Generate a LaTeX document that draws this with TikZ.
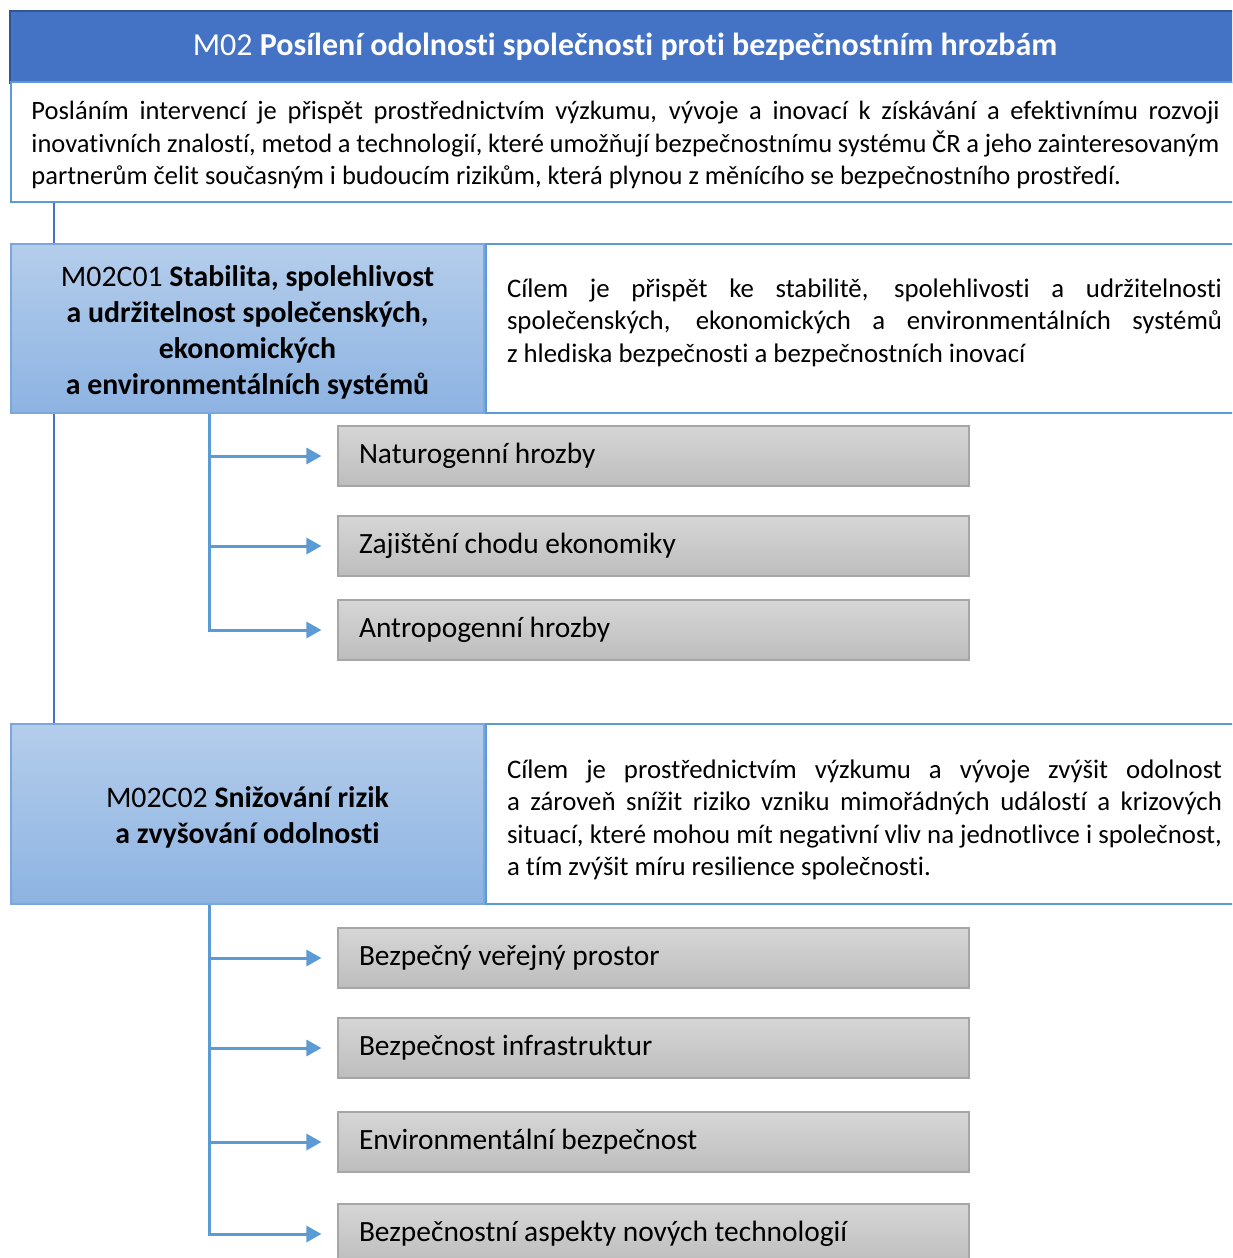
\documentclass[tikz,border=0pt]{standalone}
\usepackage{fontspec}
\setmainfont{Carlito}[Ligatures=NoCommon]
\usepackage{xcolor}
\usetikzlibrary{
    arrows.meta,
    calc,
    positioning
}
\definecolor{titleblue}{HTML}{4472C4}
\definecolor{titleline}{HTML}{2F5597}
\definecolor{boxblue}{HTML}{5B9BD5}
\definecolor{headtop}{HTML}{B4CDEB}
\definecolor{headbot}{HTML}{8DB3E2}
\definecolor{headline}{HTML}{7AA7DD}
\definecolor{itemtop}{HTML}{D6D6D6}
\definecolor{itembot}{HTML}{BDBDBD}
\definecolor{itemline}{HTML}{A6A6A6}
\hyphenpenalty=10000
\exhyphenpenalty=10000

\begin{document}
\begin{tikzpicture}[x=0.5pt, y=-0.5pt,
    every node/.style={font=\fontsize{13.4}{16.25}\selectfont, inner sep=0pt},
    titlebox/.style={draw=titleline, line width=0.75pt, fill=titleblue, text=white,
        minimum width=615pt, minimum height=36pt, font=\fontsize{16}{18}\selectfont},
    textbox/.style={draw=boxblue, line width=1pt, fill=white, align=justify},
    headbox/.style={draw=headline, line width=1pt, top color=headtop, bottom color=headbot,
        text width=236.5pt, align=flush center, font=\fontsize{14.9}{18}\selectfont},
    itembox/.style={draw=itemline, line width=0.6pt, top color=itemtop, bottom color=itembot,
        minimum height=30pt, text width=294.5pt, inner xsep=10.5pt, align=flush left,
        font=\fontsize{14.7}{17}\selectfont},
    trunk/.style={draw=titleblue, line width=1.25pt},
    branch/.style={draw=boxblue, line width=1.5pt, -{Triangle[length=7.5pt,width=8pt]}, shorten >=8pt}]
    \useasboundingbox (0,0) rectangle (1232,1258);
    \clip (0,0) rectangle (1232,1258);
    \fill[white] (0,0) rectangle (1232,1258);

    % mission
    \node[titlebox] (title) at (625,47) {M02 \textbf{Posílení odolnosti společnosti proti bezpečnostním hrozbám}};
    \node[textbox, text width=594pt, inner xsep=10.25pt, minimum height=60pt,
        font=\fontsize{13.25}{16.25}\selectfont] (mission) at (625.5,142)
        {Posláním intervencí je přispět prostřednictvím výzkumu, vývoje a inovací k získávání a efektivnímu rozvoji\linebreak
        inovativních znalostí, metod a technologií, které umožňují bezpečnostnímu systému ČR a jeho zainteresovaným\linebreak
        partnerům čelit současným i budoucím rizikům, která plynou z měnícího se bezpečnostního prostředí.\par\kern-3pt};

    \coordinate (tx) at (54,0);
    \coordinate (bx) at (209,0);

    % cíl 1
    \node[headbox, minimum height=84.5pt] (c1) at (247.5,328.5)
        {M02C01 \textbf{Stabilita, spolehlivost}\\ \textbf{a udržitelnost společenských,}\\
        \textbf{ekonomických}\\ \textbf{a environmentálních systémů}\par\kern-4pt};
    \node[textbox, text width=357.5pt, inner xsep=10.5pt, minimum height=84.5pt, right=0pt of c1] (d1)
        {Cílem je přispět ke stabilitě, spolehlivosti a udržitelnosti\linebreak
        společenských, ekonomických a environmentálních systémů\linebreak
        z hlediska bezpečnosti a bezpečnostních inovací\par\kern6pt};

    % cíl 2
    \node[headbox, minimum height=90pt] (c2) at (247.5,814)
        {M02C02 \textbf{Snižování rizik}\\ \textbf{a zvyšování odolnosti}\par\kern-3pt};
    \node[textbox, text width=357.5pt, inner xsep=10.5pt, minimum height=90pt, right=0pt of c2] (d2)
        {Cílem je prostřednictvím výzkumu a vývoje zvýšit odolnost\linebreak
        a zároveň snížit riziko vzniku mimořádných událostí a krizových\linebreak
        situací, které mohou mít negativní vliv na jednotlivce i společnost,\linebreak
        a tím zvýšit míru resilience společnosti.\par\kern-6pt};

    \draw[trunk] (mission.south -| tx) -- (c1.north -| tx);
    \draw[trunk] (c1.south -| tx) -- (c2.north -| tx);

    % oblasti
    \foreach \y/\name/\txt in {456/n1/Naturogenní hrozby, 546/n2/Zajištění chodu ekonomiky, 630/n3/Antropogenní hrozby}{
        \node[itembox] (\name) at (653.5,\y) {\txt};
        \draw[branch] (c1.south -| bx) |- (\name.west);
    }
    \foreach \y/\name/\txt in {958/m1/Bezpečný veřejný prostor, 1048/m2/Bezpečnost infrastruktur,
        1142/m3/Environmentální bezpečnost, 1234/m4/Bezpečnostní aspekty nových technologií}{
        \node[itembox] (\name) at (653.5,\y) {\txt};
        \draw[branch] (c2.south -| bx) |- (\name.west);
    }
\end{tikzpicture}
\end{document}
